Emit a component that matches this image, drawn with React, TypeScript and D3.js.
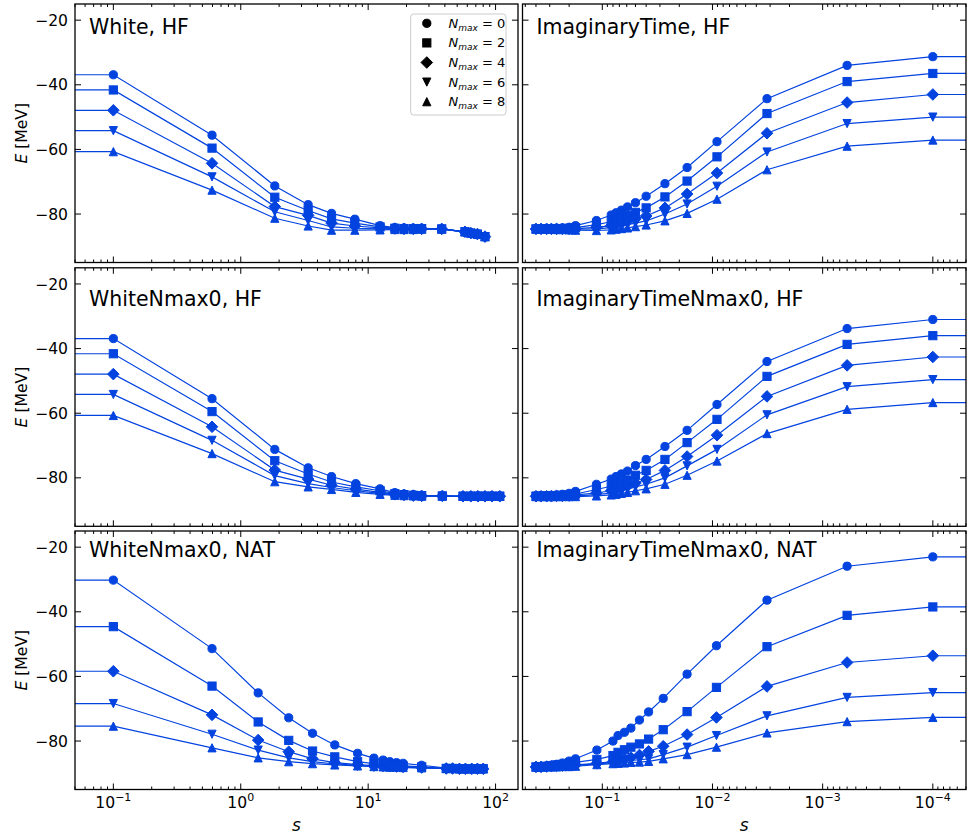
import React from "react";
import * as d3 from "d3";

const COLOR = "#0343df";
const FONT = "DejaVu Sans, sans-serif";

const Y_DOMAIN = [-95, -15];
const Y_TICKS = [-20, -40, -60, -80];
const LEFT_S_DOMAIN = [0.05, 150];
const RIGHT_S_DOMAIN = [0.53, 5e-5];
const LEFT_MAJOR = [0.1, 1, 10, 100];
const LEFT_EXP = ["−1", "0", "1", "2"];
const RIGHT_MAJOR = [1e-1, 1e-2, 1e-3, 1e-4];
const RIGHT_EXP = ["−1", "−2", "−3", "−4"];
const NMAX_LABELS = [0, 2, 4, 6, 8];
const MARKERS = ["o", "s", "D", "v", "^"];

// ---- White, HF
const WHITE_HF_S = [0.1, 0.595, 1.85, 3.38, 5.16, 7.86, 12.4, 16.2, 19.1, 22.6, 26.3, 37.8, 57.5, 64, 72, 82.6];
const WHITE_HF_N0 = [-36.9, -55.6, -71.3, -77.1, -79.8, -81.6, -83.6, -84.2, -84.3, -84.4, -84.4, -84.6, -85.5, -85.9, -86.2, -87.0];
const WHITE_HF_N2 = [-41.6, -59.6, -74.8, -78.9, -81.5, -82.8, -84.0, -84.4, -84.5, -84.5, -84.5, -84.6, -85.5, -85.9, -86.2, -87.0];
const WHITE_HF_N4 = [-47.9, -64.3, -77.7, -80.4, -82.8, -83.7, -84.3, -84.5, -84.6, -84.6, -84.6, -84.6, -85.5, -85.9, -86.2, -87.0];
const WHITE_HF_N6 = [-54.2, -68.5, -79.3, -82.0, -84.0, -84.4, -84.6, -84.6, -84.7, -84.7, -84.7, -84.7, -85.5, -85.9, -86.3, -87.0];
const WHITE_HF_N8 = [-60.7, -72.6, -81.3, -83.7, -85.0, -85.0, -84.9, -84.8, -84.8, -84.8, -84.7, -84.7, -85.5, -85.9, -86.3, -87.0];

// ---- WhiteNmax0, HF
const WN0_HF_S = [0.1, 0.595, 1.85, 3.38, 5.16, 8.0, 12.4, 16.2, 19.1, 22.6, 26.3, 38.2, 55.5, 64, 72.8, 82.6, 93.8, 108];
const WN0_HF_N0 = [-36.9, -55.5, -71.2, -76.9, -79.6, -81.8, -83.4, -84.6, -85.0, -85.2, -85.4, -85.6, -85.7, -85.7, -85.7, -85.7, -85.7, -85.7];
const WN0_HF_N2 = [-41.6, -59.5, -74.7, -78.8, -81.3, -82.8, -84.0, -84.9, -85.2, -85.4, -85.5, -85.6, -85.7, -85.7, -85.7, -85.7, -85.7, -85.7];
const WN0_HF_N4 = [-47.9, -64.2, -77.6, -80.4, -82.3, -83.5, -84.5, -85.1, -85.3, -85.5, -85.6, -85.6, -85.7, -85.7, -85.7, -85.7, -85.7, -85.7];
const WN0_HF_N6 = [-54.2, -68.4, -79.3, -81.8, -83.0, -84.0, -84.8, -85.3, -85.4, -85.5, -85.6, -85.7, -85.7, -85.7, -85.7, -85.7, -85.7, -85.7];
const WN0_HF_N8 = [-60.7, -72.5, -81.2, -82.8, -83.6, -84.5, -85.1, -85.4, -85.5, -85.6, -85.7, -85.7, -85.7, -85.7, -85.7, -85.7, -85.7, -85.7];

// ---- WhiteNmax0, NAT
const WN0_NAT_S = [0.1, 0.595, 1.37, 2.38, 3.66, 5.47, 8.26, 11.1, 13.1, 14.8, 16.7, 18.8, 26.3, 41, 46, 52, 58, 65, 72, 80];
const WN0_NAT_N0 = [-30.2, -51.4, -65.1, -72.8, -77.6, -81.2, -83.8, -85.3, -85.9, -86.4, -86.7, -86.9, -87.5, -88.4, -88.5, -88.5, -88.6, -88.6, -88.6, -88.6];
const WN0_NAT_N2 = [-44.6, -63.0, -74.1, -79.8, -83.1, -84.9, -86.4, -87.0, -87.3, -87.5, -87.6, -87.7, -88.0, -88.5, -88.5, -88.6, -88.6, -88.6, -88.6, -88.6];
const WN0_NAT_N4 = [-58.4, -71.9, -79.7, -83.3, -85.5, -86.7, -87.3, -87.6, -87.7, -87.8, -87.9, -88.0, -88.2, -88.5, -88.5, -88.6, -88.6, -88.6, -88.6, -88.6];
const WN0_NAT_N6 = [-68.4, -77.9, -82.8, -85.2, -86.4, -87.1, -87.5, -87.8, -87.9, -88.0, -88.0, -88.1, -88.3, -88.5, -88.5, -88.6, -88.6, -88.6, -88.6, -88.6];
const WN0_NAT_N8 = [-75.4, -82.1, -85.2, -86.4, -87.0, -87.4, -87.7, -87.9, -88.0, -88.1, -88.1, -88.2, -88.3, -88.5, -88.5, -88.6, -88.6, -88.6, -88.6, -88.6];

// ---- ImaginaryTime, HF
const IT_HF_S = [0.40, 0.36, 0.32, 0.29, 0.26, 0.23, 0.20, 0.175, 0.113, 0.083, 0.075, 0.067, 0.059, 0.050, 0.040, 0.027, 0.017, 0.0091, 0.0032, 0.0006, 0.0001];
const IT_HF_N0 = [-84.6, -84.6, -84.5, -84.5, -84.4, -84.3, -84.1, -83.6, -82.0, -80.3, -79.6, -78.8, -77.8, -76.5, -74.5, -70.6, -65.6, -57.6, -44.3, -34.0, -31.3];
const IT_HF_N2 = [-84.6, -84.6, -84.6, -84.6, -84.5, -84.5, -84.4, -84.2, -83.3, -82.4, -81.8, -81.2, -80.4, -79.5, -78.1, -74.7, -69.8, -62.3, -48.9, -39.0, -36.5];
const IT_HF_N4 = [-84.6, -84.6, -84.6, -84.6, -84.6, -84.6, -84.6, -84.5, -84.1, -83.6, -83.2, -82.8, -82.2, -81.5, -80.6, -78.1, -73.8, -67.3, -55.0, -45.5, -43.0];
const IT_HF_N6 = [-84.7, -84.7, -84.7, -84.7, -84.7, -84.7, -84.7, -84.7, -84.6, -84.2, -84.0, -83.7, -83.3, -82.8, -82.1, -80.0, -76.9, -71.4, -60.8, -52.0, -50.0];
const IT_HF_N8 = [-84.7, -84.7, -84.7, -84.7, -84.8, -84.8, -84.9, -85.0, -85.1, -84.9, -84.7, -84.5, -84.3, -83.9, -83.4, -82.1, -79.8, -75.4, -66.3, -59.0, -57.1];

// ---- ImaginaryTimeNmax0, HF
const ITN0_HF_S = [0.40, 0.36, 0.32, 0.29, 0.26, 0.23, 0.20, 0.175, 0.113, 0.083, 0.075, 0.067, 0.059, 0.050, 0.040, 0.027, 0.017, 0.0091, 0.0032, 0.0006, 0.0001];
const ITN0_HF_N0 = [-85.6, -85.6, -85.5, -85.4, -85.3, -85.1, -84.8, -84.2, -82.0, -80.4, -79.6, -78.8, -77.9, -76.2, -74.3, -70.3, -65.3, -57.3, -44.0, -33.8, -31.0];
const ITN0_HF_N2 = [-85.7, -85.7, -85.6, -85.6, -85.5, -85.4, -85.3, -85.0, -83.6, -82.6, -82.0, -81.4, -80.7, -79.2, -77.7, -74.3, -69.1, -61.9, -48.6, -38.7, -36.0];
const ITN0_HF_N4 = [-85.7, -85.7, -85.7, -85.7, -85.6, -85.6, -85.5, -85.3, -84.7, -84.0, -83.6, -83.1, -82.5, -81.6, -80.5, -77.7, -73.4, -66.8, -54.8, -45.2, -42.6];
const ITN0_HF_N6 = [-85.7, -85.7, -85.7, -85.7, -85.7, -85.7, -85.7, -85.6, -85.2, -84.7, -84.4, -84.0, -83.5, -82.8, -82.0, -80.0, -76.3, -71.2, -60.5, -51.8, -49.6];
const ITN0_HF_N8 = [-85.8, -85.8, -85.8, -85.8, -85.8, -85.8, -85.8, -85.8, -85.6, -85.3, -85.1, -84.8, -84.5, -84.0, -83.4, -82.0, -79.2, -74.8, -66.3, -58.8, -56.7];

// ---- ImaginaryTimeNmax0, NAT
const ITN0_NAT_S = [0.40, 0.36, 0.32, 0.29, 0.26, 0.23, 0.20, 0.175, 0.112, 0.080, 0.072, 0.063, 0.055, 0.046, 0.038, 0.028, 0.017, 0.0092, 0.0032, 0.0006, 0.0001];
const ITN0_NAT_N0 = [-88.0, -87.9, -87.7, -87.5, -87.2, -86.8, -86.2, -85.5, -82.8, -80.0, -78.3, -77.3, -76.0, -73.5, -71.0, -66.8, -59.3, -50.5, -36.4, -25.9, -23.0];
const ITN0_NAT_N2 = [-88.0, -87.9, -87.8, -87.6, -87.4, -87.2, -86.9, -86.6, -85.7, -84.5, -83.5, -82.7, -81.9, -80.9, -79.4, -76.5, -70.9, -63.4, -50.8, -41.1, -38.5];
const ITN0_NAT_N4 = [-88.0, -88.0, -87.9, -87.8, -87.7, -87.6, -87.5, -87.4, -86.9, -86.4, -86.0, -85.5, -85.1, -84.3, -83.2, -81.6, -78.0, -72.7, -63.1, -55.7, -53.6];
const ITN0_NAT_N6 = [-88.1, -88.0, -88.0, -87.9, -87.9, -87.8, -87.7, -87.6, -87.1, -86.7, -86.5, -86.3, -86.0, -85.8, -85.5, -84.2, -81.9, -78.3, -72.2, -66.5, -65.0];
const ITN0_NAT_N8 = [-88.1, -88.1, -88.0, -88.0, -88.0, -87.9, -87.9, -87.8, -87.3, -87.0, -86.9, -86.8, -86.6, -86.5, -86.3, -85.5, -84.2, -81.9, -77.5, -74.0, -72.7];

const PANELS = [
  { title: "White, HF", row: 0, col: 0, s: WHITE_HF_S, ys: [WHITE_HF_N0, WHITE_HF_N2, WHITE_HF_N4, WHITE_HF_N6, WHITE_HF_N8] },
  { title: "ImaginaryTime, HF", row: 0, col: 1, s: IT_HF_S, ys: [IT_HF_N0, IT_HF_N2, IT_HF_N4, IT_HF_N6, IT_HF_N8] },
  { title: "WhiteNmax0, HF", row: 1, col: 0, s: WN0_HF_S, ys: [WN0_HF_N0, WN0_HF_N2, WN0_HF_N4, WN0_HF_N6, WN0_HF_N8] },
  { title: "ImaginaryTimeNmax0, HF", row: 1, col: 1, s: ITN0_HF_S, ys: [ITN0_HF_N0, ITN0_HF_N2, ITN0_HF_N4, ITN0_HF_N6, ITN0_HF_N8] },
  { title: "WhiteNmax0, NAT", row: 2, col: 0, s: WN0_NAT_S, ys: [WN0_NAT_N0, WN0_NAT_N2, WN0_NAT_N4, WN0_NAT_N6, WN0_NAT_N8] },
  { title: "ImaginaryTimeNmax0, NAT", row: 2, col: 1, s: ITN0_NAT_S, ys: [ITN0_NAT_N0, ITN0_NAT_N2, ITN0_NAT_N4, ITN0_NAT_N6, ITN0_NAT_N8] },
];

// layout
const W = 968;
const H = 835;
const ROW_Y = [4, 267.8, 531];
const ROW_H = 258.5;
const COL_X = [[75, 518], [522.5, 966]];
const TITLE_BASE = [34, 305.5, 557.3];
const MS = 8.2;

function Marker({ type, x, y, size, color }: any) {
  const h = size / 2;
  if (type === "o") return <circle cx={x} cy={y} r={h} fill={color} stroke={color} strokeWidth={1} />;
  if (type === "s") return <rect x={x - h} y={y - h} width={size} height={size} fill={color} stroke={color} strokeWidth={1} />;
  let d = "";
  if (type === "D") {
    const r = size * Math.SQRT1_2;
    d = `M${x},${y - r}L${x + r},${y}L${x},${y + r}L${x - r},${y}Z`;
  } else if (type === "^") {
    d = `M${x},${y - h}L${x + h},${y + h}L${x - h},${y + h}Z`;
  } else {
    d = `M${x},${y + h}L${x + h},${y - h}L${x - h},${y - h}Z`;
  }
  return <path d={d} fill={color} stroke={color} strokeWidth={1} />;
}

function logMinors(domain: number[]) {
  const lo = Math.min(domain[0], domain[1]);
  const hi = Math.max(domain[0], domain[1]);
  const out: number[] = [];
  for (let k = Math.floor(Math.log10(lo)); k <= Math.ceil(Math.log10(hi)); k++) {
    for (let m = 2; m <= 9; m++) {
      const v = m * Math.pow(10, k);
      if (v >= lo && v <= hi) out.push(v);
    }
  }
  return out;
}

function Panel({ p, idx }: any) {
  const [x0, x1] = COL_X[p.col];
  const y0 = ROW_Y[p.row];
  const y1 = y0 + ROW_H;
  const sDomain = p.col === 0 ? LEFT_S_DOMAIN : RIGHT_S_DOMAIN;
  const x = d3.scaleLog().domain(sDomain).range([x0, x1]);
  const y = d3.scaleLinear().domain(Y_DOMAIN).range([y1, y0]);
  const majors = p.col === 0 ? LEFT_MAJOR : RIGHT_MAJOR;
  const exps = p.col === 0 ? LEFT_EXP : RIGHT_EXP;
  const minors = logMinors(sDomain).filter((v) => !majors.some((m) => Math.abs(m - v) / m < 1e-6));
  const clipId = `clip${idx}`;
  const line = d3.line<any>().x((d) => x(d.s)).y((d) => y(d.e));
  const bottom = p.row === 2;
  const left = p.col === 0;
  return (
    <g>
      <defs>
        <clipPath id={clipId}>
          <rect x={x0} y={y0} width={x1 - x0} height={y1 - y0} />
        </clipPath>
      </defs>
      <g clipPath={`url(#${clipId})`}>
        {p.ys.map((vals: number[], si: number) => {
          const pts = p.s.map((s: number, i: number) => ({ s, e: vals[i] }));
          let linePts = pts;
          if (p.col === 0) linePts = [{ s: sDomain[0] * 0.5, e: pts[0].e }, ...pts];
          else linePts = [...pts, { s: sDomain[1] * 0.5, e: pts[pts.length - 1].e }];
          return (
            <g key={si}>
              <path d={line(linePts) || ""} fill="none" stroke={COLOR} strokeWidth={1.2} />
              {pts.map((d: any, i: number) => (
                <Marker key={i} type={MARKERS[si]} x={x(d.s)} y={y(d.e)} size={MS} color={COLOR} />
              ))}
            </g>
          );
        })}
      </g>
      {/* ticks */}
      <g stroke="#000" strokeWidth={1}>
        {Y_TICKS.map((t) => (
          <g key={t}>
            <line x1={x0} x2={x0 + 6} y1={y(t)} y2={y(t)} />
            <line x1={x1} x2={x1 - 6} y1={y(t)} y2={y(t)} />
          </g>
        ))}
        {majors.map((t) => (
          <g key={t}>
            <line x1={x(t)} x2={x(t)} y1={y1} y2={y1 - 6} />
            <line x1={x(t)} x2={x(t)} y1={y0} y2={y0 + 6} />
          </g>
        ))}
        {minors.map((t) => (
          <g key={t}>
            <line x1={x(t)} x2={x(t)} y1={y1} y2={y1 - 3} />
            <line x1={x(t)} x2={x(t)} y1={y0} y2={y0 + 3} />
          </g>
        ))}
      </g>
      <rect x={x0} y={y0} width={x1 - x0} height={y1 - y0} fill="none" stroke="#000" strokeWidth={1.3} />
      <text x={x0 + 14} y={TITLE_BASE[p.row]} fontSize={20.5} fontFamily={FONT} fill="#000">
        {p.title}
      </text>
      {left &&
        Y_TICKS.map((t) => (
          <text key={t} x={x0 - 7} y={y(t)} dy="0.36em" textAnchor="end" fontSize={15.6} fontFamily={FONT} fill="#000">
            {"−" + Math.abs(t)}
          </text>
        ))}
      {left && (
        <text
          transform={`translate(${22},${(y0 + y1) / 2}) rotate(-90)`}
          textAnchor="middle"
          dy="0.35em"
          fontSize={15.6}
          fontFamily={FONT}
          fill="#000"
        >
          <tspan fontStyle="italic">E</tspan>
          <tspan> [MeV]</tspan>
        </text>
      )}
      {bottom &&
        majors.map((t, i) => (
          <text key={t} x={x(t)} y={808} textAnchor="middle" fontSize={15.6} fontFamily={FONT} fill="#000">
            <tspan>10</tspan>
            <tspan fontSize={11} dy={-7}>
              {exps[i]}
            </tspan>
          </text>
        ))}
      {bottom && (
        <text x={(x0 + x1) / 2} y={831} textAnchor="middle" fontSize={17} fontStyle="italic" fontFamily={FONT} fill="#000">
          s
        </text>
      )}
    </g>
  );
}

function Legend() {
  const lx = 410.7;
  const ly = 14;
  const rows = NMAX_LABELS.map((n, i) => ({ n, m: MARKERS[i], cy: 23.3 + i * 19.6 }));
  return (
    <g>
      <rect x={lx} y={ly} width={95.3} height={101} rx={3} ry={3} fill="#fff" fillOpacity={0.8} stroke="#cccccc" strokeWidth={1} />
      {rows.map((r) => (
        <g key={r.n}>
          <Marker type={r.m} x={426.8} y={r.cy} size={MS} color="#000" />
          <text x={448.5} y={r.cy} dy="0.35em" fontSize={13} fontFamily={FONT} fill="#000">
            <tspan fontStyle="italic">N</tspan>
            <tspan fontStyle="italic" fontSize={9} dy={3}>max</tspan>
            <tspan dy={-3}>{" = " + r.n}</tspan>
          </text>
        </g>
      ))}
    </g>
  );
}

export default function App() {
  return (
    <svg width={W} height={H} viewBox={`0 0 ${W} ${H}`} style={{ position: "absolute", left: 0, top: 0, background: "#fff" }}>
      <rect x={0} y={0} width={W} height={H} fill="#fff" />
      {PANELS.map((p, i) => (
        <Panel key={i} p={p} idx={i} />
      ))}
      <Legend />
    </svg>
  );
}
